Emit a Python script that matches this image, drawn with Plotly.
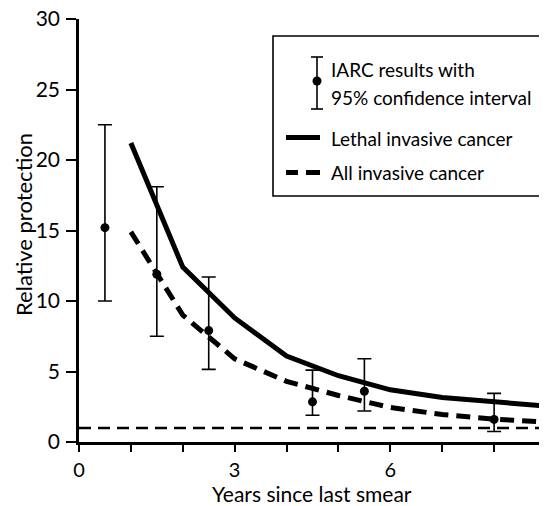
import plotly.graph_objects as go

# ---- data ----
iarc_years = [0.5, 1.5, 2.5, 4.5, 5.5, 8.0]
iarc_values = [15.2, 11.9, 7.9, 2.85, 3.6, 1.6]
iarc_upper = [22.5, 18.1, 11.7, 5.1, 5.9, 3.45]
iarc_lower = [10.0, 7.5, 5.15, 1.9, 2.2, 0.75]

model_years = [1, 2, 3, 4, 5, 6, 7, 8, 9]
lethal_values = [21.2, 12.4, 8.8, 6.1, 4.7, 3.7, 3.15, 2.85, 2.55]
all_values = [14.9, 9.0, 5.9, 4.3, 3.3, 2.45, 1.95, 1.62, 1.42]

ref_years = [0, 9]
ref_values = [1, 1]

x_tickvals = [0, 1, 2, 3, 4, 5, 6, 7, 8, 9]
x_ticktext = ["0", "", "", "3", "", "", "6", "", "", "9"]
y_tickvals = [0, 5, 10, 15, 20, 25, 30]

FONT = "Lato"
OFF = 8  # default page body margin
W, H = 555, 498
L, R, T, B = 71, 17, 11, 64
PW, PH = W - L - R, H - T - B


def px(xp):
    """page pixel x -> paper x"""
    return (xp - OFF - L) / PW


def py(yp):
    """page pixel y -> paper y"""
    return (H - B - (yp - OFF)) / PH


fig = go.Figure()

fig.add_trace(go.Scatter(x=ref_years, y=ref_values, mode="lines",
                         line=dict(color="black", width=2.5, dash="12px,7px"),
                         showlegend=False, hoverinfo="skip"))
fig.add_trace(go.Scatter(x=model_years, y=all_values, mode="lines",
                         line=dict(color="black", width=5, dash="14px,8px"),
                         name="All invasive cancer", showlegend=False))
fig.add_trace(go.Scatter(x=model_years, y=lethal_values, mode="lines",
                         line=dict(color="black", width=5),
                         name="Lethal invasive cancer", showlegend=False))

err_plus = [u - v for u, v in zip(iarc_upper, iarc_values)]
err_minus = [v - l for v, l in zip(iarc_values, iarc_lower)]
fig.add_trace(go.Scatter(x=iarc_years, y=iarc_values, mode="markers",
                         marker=dict(color="black", size=9),
                         error_y=dict(type="data", array=err_plus, arrayminus=err_minus,
                                      color="black", thickness=1.6, width=7, symmetric=False),
                         name="IARC results", showlegend=False))

# ---- manual legend ----
shapes = []
shapes.append(dict(type="rect", xref="paper", yref="paper",
                   x0=px(273), x1=px(546), y0=py(196), y1=py(36),
                   line=dict(color="black", width=1.6), fillcolor="white", layer="above"))
ex = 317
shapes.append(dict(type="line", xref="paper", yref="paper", x0=px(ex), x1=px(ex),
                   y0=py(57), y1=py(109), line=dict(color="black", width=1.6)))
for cy in (57, 109):
    shapes.append(dict(type="line", xref="paper", yref="paper", x0=px(ex - 6), x1=px(ex + 6),
                       y0=py(cy), y1=py(cy), line=dict(color="black", width=1.6)))
shapes.append(dict(type="circle", xref="paper", yref="paper", x0=px(ex - 4.5), x1=px(ex + 4.5),
                   y0=py(85.5), y1=py(76.5), fillcolor="black", line=dict(color="black", width=0)))
shapes.append(dict(type="line", xref="paper", yref="paper", x0=px(286), x1=px(320),
                   y0=py(137.5), y1=py(137.5), line=dict(color="black", width=5)))
shapes.append(dict(type="line", xref="paper", yref="paper", x0=px(286), x1=px(298),
                   y0=py(172.5), y1=py(172.5), line=dict(color="black", width=5)))
shapes.append(dict(type="line", xref="paper", yref="paper", x0=px(306), x1=px(320),
                   y0=py(172.5), y1=py(172.5), line=dict(color="black", width=5)))

annotations = []
for text, yc in (("IARC results with", 70), ("95% confidence interval", 97),
                 ("Lethal invasive cancer", 138), ("All invasive cancer", 172)):
    annotations.append(dict(text=text, xref="paper", yref="paper", x=px(329), y=py(yc),
                            xanchor="left", yanchor="middle", showarrow=False,
                            font=dict(family=FONT, size=19, color="black")))

# axis titles
annotations.append(dict(text="Years since last smear", xref="paper", yref="paper",
                        x=px(312), y=py(493.5), xanchor="center", yanchor="middle",
                        showarrow=False, font=dict(family=FONT, size=21, color="black")))
annotations.append(dict(text="Relative protection", xref="paper", yref="paper",
                        x=px(23), y=py(225), xanchor="center", yanchor="middle", textangle=-90,
                        showarrow=False, font=dict(family=FONT, size=22, color="black")))

fig.update_layout(
    width=W, height=H,
    margin=dict(l=L, r=R, t=T, b=B, pad=0),
    paper_bgcolor="white", plot_bgcolor="white",
    font=dict(family=FONT, color="black"),
    shapes=shapes, annotations=annotations,
    showlegend=False,
    xaxis=dict(range=[0, 9], tickvals=x_tickvals, ticktext=x_ticktext,
               showgrid=False, zeroline=False, showline=True, linecolor="black", linewidth=2.5,
               ticks="outside", ticklen=7, tickwidth=2, tickcolor="black",
               ticklabelstandoff=1, ticklabeloverflow="allow",
               tickfont=dict(family=FONT, size=20, color="black"),
               automargin=False),
    yaxis=dict(range=[0, 30], tickvals=y_tickvals,
               showgrid=False, zeroline=False, showline=True, linecolor="black", linewidth=2.5,
               ticks="outside", ticklen=10, tickwidth=2, tickcolor="black",
               ticklabelstandoff=2, ticklabeloverflow="allow",
               tickfont=dict(family=FONT, size=21, color="black"),
               automargin=False),
)

fig.write_html("out.html")
